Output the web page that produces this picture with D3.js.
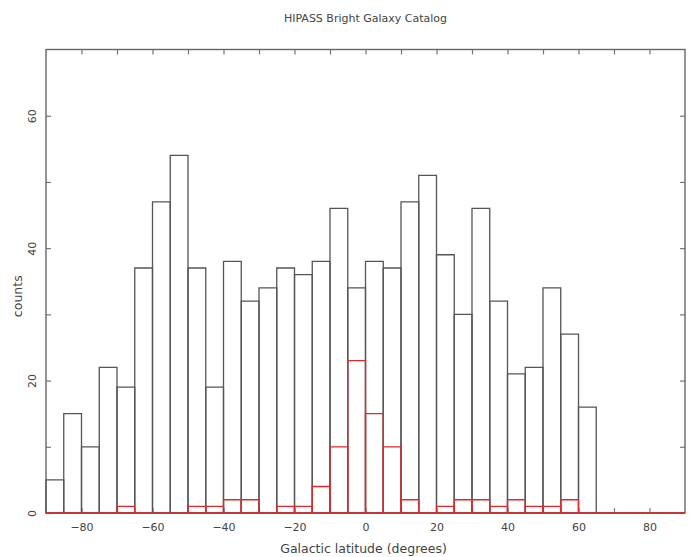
<!DOCTYPE html>
<html lang="en">
<head>
<meta charset="UTF-8">
<title>HIPASS Bright Galaxy Catalog</title>
<script src="https://cdn.jsdelivr.net/npm/d3@7"></script>
<style>
    body { margin: 0; background: #fff; }
    text { font-family: "DejaVu Sans", sans-serif; fill: #444; }
    .domain { display: none; }
</style>
</head>
<body>
<div id="chart"></div>
<script>
    // lower edge of each 5 degree bin
    const binLow = [-90, -85, -80, -75, -70, -65, -60, -55, -50, -45, -40, -35,
                    -30, -25, -20, -15, -10, -5, 0, 5, 10, 15, 20, 25,
                    30, 35, 40, 45, 50, 55, 60, 65, 70, 75, 80, 85];
    const binWidth = 5;
    // all galaxies
    const allCounts = [5, 15, 10, 22, 19, 37, 47, 54, 37, 19, 38, 32,
                       34, 37, 36, 38, 46, 34, 38, 37, 47, 51, 39, 30,
                       46, 32, 21, 22, 34, 27, 16, 0, 0, 0, 0, 0];
    // subset (red)
    const subCounts = [0, 0, 0, 0, 1, 0, 0, 0, 1, 1, 2, 2,
                       0, 1, 1, 4, 10, 23, 15, 10, 2, 0, 1, 2,
                       2, 1, 2, 1, 1, 2, 0, 0, 0, 0, 0, 0];
    const xTicks = [-80, -70, -60, -50, -40, -30, -20, -10, 0, 10, 20, 30, 40, 50, 60, 70, 80];
    const yTicks = [0, 10, 20, 30, 40, 50, 60];

    const width = 694, height = 557;
    const margin = {top: 49.5, right: 9, bottom: 44, left: 46};

    const svg = d3.select("#chart").append("svg")
        .attr("width", width)
        .attr("height", height);

    const x = d3.scaleLinear().domain([-90, 90]).range([margin.left, width - margin.right]);
    const y = d3.scaleLinear().domain([0, 70]).range([height - margin.bottom, margin.top]);

    const fmt = d => (d % 20 === 0 ? d3.format("")(d) : "");

    // axes, ticks pointing inward
    const xBottom = svg.append("g")
        .attr("transform", `translate(0,${height - margin.bottom})`)
        .call(d3.axisBottom(x).tickValues(xTicks).tickSize(-5).tickPadding(10).tickFormat(fmt));
    svg.append("g")
        .attr("transform", `translate(0,${margin.top})`)
        .call(d3.axisTop(x).tickValues(xTicks).tickSize(-5).tickFormat(""));
    const yLeft = svg.append("g")
        .attr("transform", `translate(${margin.left},0)`)
        .call(d3.axisLeft(y).tickValues(yTicks).tickSize(-5).tickFormat(fmt));
    svg.append("g")
        .attr("transform", `translate(${width - margin.right},0)`)
        .call(d3.axisRight(y).tickValues(yTicks).tickSize(-5).tickFormat(""));

    svg.selectAll(".tick line").attr("stroke", "#777").attr("stroke-width", 1.2);
    xBottom.selectAll("text").attr("font-size", 11).attr("fill", "#444");
    yLeft.selectAll("text")
        .attr("font-size", 11)
        .attr("fill", "#444")
        .attr("text-anchor", "middle")
        .attr("x", 0).attr("dy", 0)
        .attr("transform", "translate(-10,0) rotate(-90)");

    // frame
    svg.append("rect")
        .attr("x", x(-90)).attr("y", y(70))
        .attr("width", x(90) - x(-90)).attr("height", y(0) - y(70))
        .attr("fill", "none").attr("stroke", "#666").attr("stroke-width", 1.4);

    // histogram outlines, drawn as paths so empty bins still show a baseline
    const barPath = d => {
        const x0 = x(d.lo), x1 = x(d.lo + binWidth), y0 = y(0), yt = y(d.n);
        return `M${x0},${y0}V${yt}H${x1}V${y0}Z`;
    };
    const bars = (counts, colour, cls) => svg.selectAll("." + cls)
        .data(binLow.map((b, i) => ({lo: b, n: counts[i]})))
        .enter().append("path")
        .attr("class", cls)
        .attr("d", barPath)
        .attr("fill", "none")
        .attr("stroke", colour)
        .attr("stroke-width", 1.3);

    bars(allCounts, "#555", "allBar");
    bars(subCounts, "#e0282c", "subBar");

    // labels
    svg.append("text")
        .attr("x", (x(-90) + x(90)) / 2)
        .attr("y", 22)
        .attr("text-anchor", "middle")
        .attr("font-size", 11)
        .attr("fill", "#555")
        .text("HIPASS Bright Galaxy Catalog");

    svg.append("text")
        .attr("x", (x(-90) + x(90)) / 2 - 2)
        .attr("y", 553)
        .attr("text-anchor", "middle")
        .attr("font-size", 12.5)
        .text("Galactic latitude (degrees)");

    svg.append("text")
        .attr("transform", `translate(22,${(y(0) + y(70)) / 2 + 15}) rotate(-90)`)
        .attr("text-anchor", "middle")
        .attr("font-size", 12.5)
        .text("counts");
</script>
</body>
</html>
